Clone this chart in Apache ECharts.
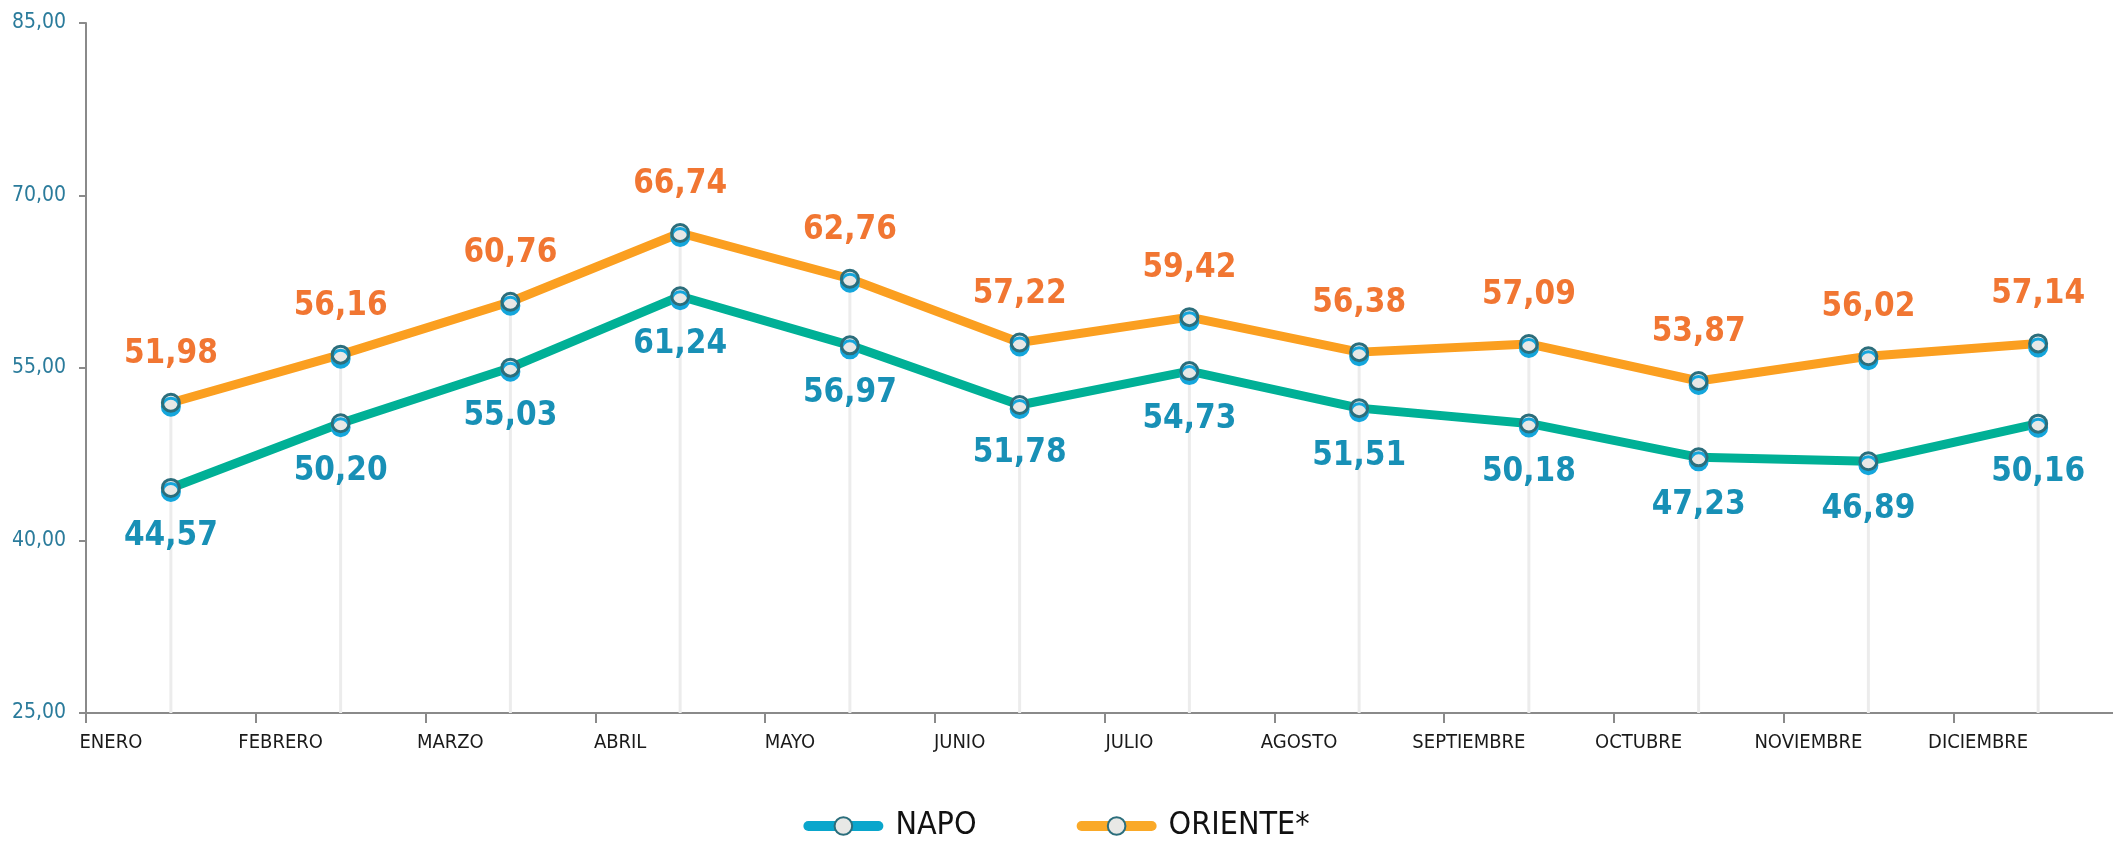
<html>
<head>
<meta charset="utf-8">
<script src="https://cdn.jsdelivr.net/npm/echarts@6/dist/echarts.min.js"></script>
</head>
<body style="margin:0">
    <div id="main" style="width:2113px;height:849px;"></div>
</body>
</html>
<script>
    // datos mensuales
    var months = ['ENERO', 'FEBRERO', 'MARZO', 'ABRIL', 'MAYO', 'JUNIO', 'JULIO', 'AGOSTO', 'SEPTIEMBRE', 'OCTUBRE', 'NOVIEMBRE', 'DICIEMBRE'];
    var napo = [44.57, 50.20, 55.03, 61.24, 56.97, 51.78, 54.73, 51.51, 50.18, 47.23, 46.89, 50.16];
    var oriente = [51.98, 56.16, 60.76, 66.74, 62.76, 57.22, 59.42, 56.38, 57.09, 53.87, 56.02, 57.14];
    var yTicks = [25, 40, 55, 70, 85];

    var font = "'DejaVu Sans Condensed', 'Liberation Sans Narrow', sans-serif";
    var fmt = function (v) { return v.toFixed(2).replace('.', ','); };

    var chartDom = document.getElementById('main');
    var myChart = echarts.init(chartDom);

    var markerStyle = {
        color: '#e8e8e6',
        borderColor: '#2b6e7c',
        borderWidth: 3,
        shadowColor: '#14a6dc',
        shadowOffsetY: 4,
        shadowBlur: 0
    };

    var option = {
        animation: false,
        grid: { left: 86, width: 2037, top: 23, bottom: 136, outerBoundsMode: 'none', containLabel: false },
        legend: {
            left: 'center',
            top: 805,
            itemWidth: 70,
            itemHeight: 22,
            itemGap: 100,
            textStyle: { fontFamily: font, fontSize: 32, color: '#111', padding: [0, 0, 0, 12] },
            data: [
                { name: 'NAPO', lineStyle: { color: '#0aa6cc', width: 10, cap: 'round' } },
                { name: 'ORIENTE*', lineStyle: { color: '#faa928', width: 10, cap: 'round' } }
            ]
        },
        xAxis: {
            type: 'category',
            data: months,
            boundaryGap: true,
            axisLine: { lineStyle: { color: '#8a8a8a', width: 2 } },
            axisTick: { show: true, length: 10, lineStyle: { color: '#8a8a8a', width: 2 } },
            axisLabel: {
                interval: 0,
                margin: 20,
                fontFamily: font,
                fontSize: 20,
                color: '#1a1a1a',
                align: 'center',
                padding: [0, 120, 0, 0]
            },
            splitLine: { show: false }
        },
        yAxis: {
            type: 'value',
            min: yTicks[0],
            max: yTicks[yTicks.length - 1],
            interval: 15,
            axisLine: { show: true, lineStyle: { color: '#8a8a8a', width: 2 } },
            axisTick: { show: true, length: 7, lineStyle: { color: '#8a8a8a', width: 2 } },
            axisLabel: {
                margin: 20,
                fontFamily: font,
                fontSize: 21,
                color: '#2a7b9b',
                formatter: function (v) { return fmt(v); }
            },
            splitLine: { show: false }
        },
        series: [
            {
                // lineas verticales grises
                type: 'bar',
                data: oriente,
                barWidth: 3,
                silent: true,
                z: 1,
                itemStyle: { color: '#ececec' }
            },
            {
                name: 'NAPO',
                type: 'line',
                data: napo,
                z: 3,
                color: '#0aa6cc',
                symbol: 'circle',
                symbolSize: 17,
                lineStyle: { color: '#00b096', width: 9 },
                itemStyle: markerStyle,
                label: {
                    show: true,
                    position: 'bottom',
                    distance: 22,
                    fontFamily: font,
                    fontWeight: 'bold',
                    fontSize: 33,
                    color: '#1890b6',
                    formatter: function (p) { return fmt(p.value); }
                }
            },
            {
                name: 'ORIENTE*',
                type: 'line',
                data: oriente,
                z: 4,
                color: '#faa928',
                symbol: 'circle',
                symbolSize: 17,
                lineStyle: { color: '#fb9f20', width: 9 },
                itemStyle: markerStyle,
                label: {
                    show: true,
                    position: 'top',
                    distance: 22,
                    fontFamily: font,
                    fontWeight: 'bold',
                    fontSize: 33,
                    color: '#f17632',
                    formatter: function (p) { return fmt(p.value); }
                }
            }
        ]
    };

    option && myChart.setOption(option);
</script>
